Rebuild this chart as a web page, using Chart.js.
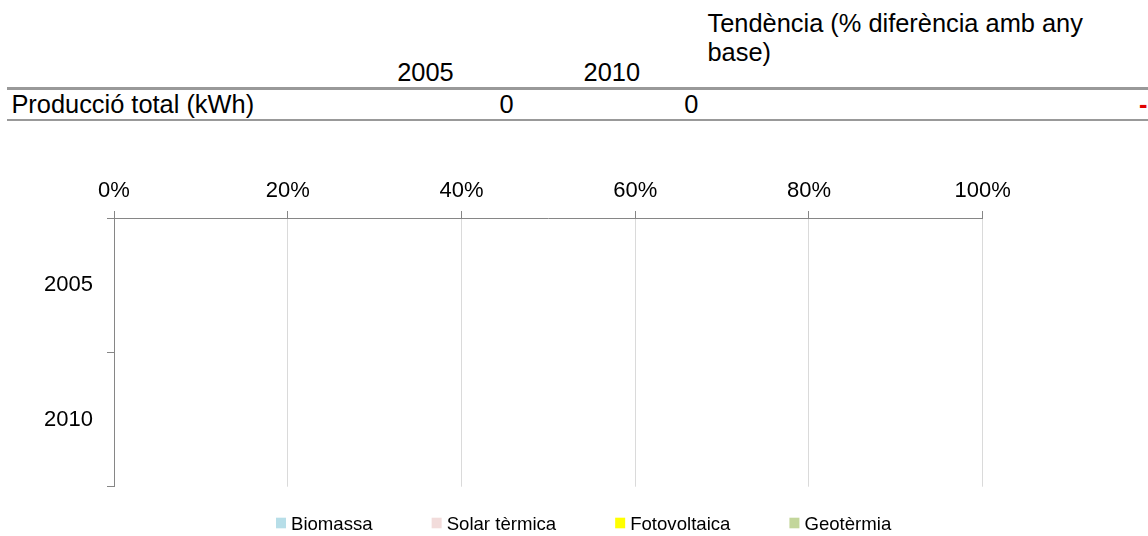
<!DOCTYPE html>
<html>
<head>
<meta charset="utf-8">
<script src="https://cdn.jsdelivr.net/npm/chart.js@4.4.0/dist/chart.umd.min.js"></script>
<style>
html, body { margin: 0; padding: 0; background: #fff; overflow: hidden; }
body { width: 1148px; height: 536px; position: relative; font-family: Arial, "Liberation Sans", sans-serif; color: #000; }
.cell { position: absolute; font-size: 25.4px; line-height: 25.4px; white-space: nowrap; }
.rule { position: absolute; left: 7px; right: 0; height: 2.7px; background: #999; }
#wrap { position: absolute; left: 0; top: 140px; width: 1148px; height: 396px; }
</style>
</head>
<body>
<div id="sheet"></div>
<div id="wrap"><canvas id="chart" width="1148" height="396"></canvas></div>

<script>
'use strict';

// dades
const years = ['2005', '2010'];
const totalKWh = [0, 0];
const rowLabel = 'Producció total (kWh)';
const trendLabel = 'Tendència (% diferència amb any base)';
const trendValue = '-';

const seriesNames = ['Biomassa', 'Solar tèrmica', 'Fotovoltaica', 'Geotèrmia'];
const biomassa = [0, 0];
const solarTermica = [0, 0];
const fotovoltaica = [0, 0];
const geotermia = [0, 0];
const pctTicks = [0, 20, 40, 60, 80, 100];

const seriesColors = ['#b7dee8', '#f2dcdb', '#ffff00', '#c3d69b'];

// taula de dalt
const sheet = document.getElementById('sheet');
function cell(text, css) {
  const d = document.createElement('div');
  d.className = 'cell';
  d.textContent = text;
  Object.assign(d.style, css);
  sheet.appendChild(d);
  return d;
}
const headRight = [453.7, 640];
const valRight = [513.7, 698.3];
years.forEach((y, i) => cell(y, { right: (1148 - headRight[i]) + 'px', top: '59.5px' }));
totalKWh.forEach((v, i) => cell(String(v), { right: (1148 - valRight[i]) + 'px', top: '91.8px' }));
cell(rowLabel, { left: '11.4px', top: '91.8px' });
cell(trendLabel, { left: '707.5px', top: '8.8px', width: '400px', whiteSpace: 'normal', lineHeight: '29.4px' });
cell(trendValue, { right: '0.5px', top: '91.8px', color: '#e00000', fontWeight: 'bold' });
[87.3, 118.8].forEach(t => {
  const r = document.createElement('div');
  r.className = 'rule';
  r.style.top = t + 'px';
  sheet.appendChild(r);
});

// percentatge (barra 100% apilada)
const series = [biomassa, solarTermica, fotovoltaica, geotermia];
const totals = years.map((_, i) => series.reduce((s, arr) => s + arr[i], 0));
const toPct = arr => arr.map((v, i) => totals[i] ? v / totals[i] * 100 : 0);

// llegenda dibuixada a mà (espais com l'original)
const sheetLegend = {
  id: 'sheetLegend',
  afterDraw(chart) {
    const ctx = chart.ctx;
    ctx.save();
    ctx.font = '18.6px Arial, "Liberation Sans", sans-serif';
    ctx.textBaseline = 'alphabetic';
    ctx.fillStyle = '#000';
    let x = 276;
    chart.data.datasets.forEach(ds => {
      ctx.fillStyle = ds.backgroundColor;
      ctx.fillRect(x, 377.7, 10, 10.6);
      ctx.fillStyle = '#000';
      ctx.fillText(ds.label, x + 15, 390);
      x += 15 + ctx.measureText(ds.label).width + 59;
    });
    ctx.restore();
  }
};

const axisGray = '#868686';
const tickFont = { family: 'Arial, "Liberation Sans", sans-serif', size: 22 };

new Chart(document.getElementById('chart'), {
  type: 'bar',
  data: {
    labels: years,
    datasets: series.map((arr, i) => ({
      label: seriesNames[i],
      data: toPct(arr),
      backgroundColor: seriesColors[i],
      stack: 'total',
      barPercentage: 1,
      categoryPercentage: 0.4
    }))
  },
  options: {
    indexAxis: 'y',
    responsive: false,
    animation: false,
    devicePixelRatio: 1,
    layout: { padding: { left: 0, top: 0, right: 165.3, bottom: 49.3 } },
    plugins: {
      legend: { display: false },
      tooltip: { enabled: false }
    },
    scales: {
      x: {
        position: 'top',
        stacked: true,
        min: 0,
        max: 100,
        afterFit: s => { s.height = 78; },
        afterBuildTicks: s => { s.ticks = pctTicks.map(v => ({ value: v })); },
        ticks: {
          color: '#000',
          font: tickFont,
          padding: 7,
          maxRotation: 0,
          callback: v => v + '%'
        },
        grid: { color: '#dadada', tickColor: axisGray, tickLength: 7 },
        border: { color: axisGray, width: 1 }
      },
      y: {
        stacked: true,
        afterFit: s => { s.width = 114; },
        ticks: { color: '#000', font: tickFont, padding: 14 },
        grid: { offset: true, drawOnChartArea: false, tickColor: axisGray, tickLength: 7 },
        border: { color: axisGray, width: 1 }
      }
    }
  },
  plugins: [sheetLegend]
});
</script>
</body>
</html>
